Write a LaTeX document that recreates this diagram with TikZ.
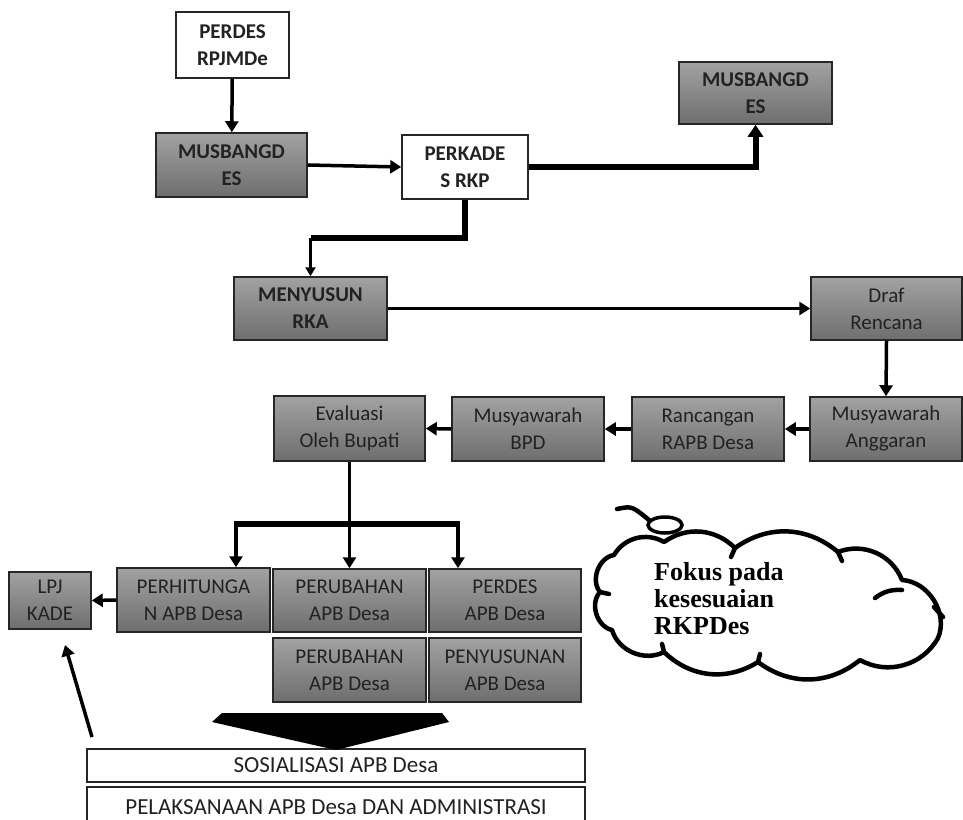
\documentclass[tikz,border=0pt]{standalone}
\usepackage{fontspec}
\setmainfont{Carlito}
\newfontfamily\cloudfont{Liberation Serif}
\usetikzlibrary{arrows.meta}
\definecolor{boxtop}{RGB}{162,162,162}
\definecolor{boxbot}{RGB}{110,110,110}
\definecolor{txt}{RGB}{34,34,34}
\tikzset{
  basebox/.style={draw=black!85, line width=1.5pt, align=center, inner sep=0pt, text=txt,
    font=\fontsize{21}{27}\selectfont},
  gbox/.style={basebox, top color=boxtop, bottom color=boxbot},
  wbox/.style={basebox, fill=white},
  bold/.style={font=\fontsize{21}{27}\selectfont\bfseries},
  bartext/.style={font=\fontsize{23}{27}\selectfont},
  conn/.style={line width=3.5pt, -{Triangle[length=11pt,width=13pt]}},
  heavy/.style={line width=6pt},
  heavyarrow/.style={line width=6pt, -{Triangle[length=12pt,width=15pt]}},
  cloudline/.style={line width=4.5pt, line cap=round, line join=round},
}
\begin{document}
\begin{tikzpicture}[x=1pt,y=-1pt]
\useasboundingbox (0,0) rectangle (963,819);
\fill[white] (0,0) rectangle (963,819);
\clip (0,0) rectangle (963,819);

% top part
\node[wbox,bold,minimum width=113pt,minimum height=66pt] (perdes) at (232.5,45) {PERDES\\RPJMDe};
\node[gbox,bold,minimum width=151pt,minimum height=64pt] (mus1) at (231.5,165) {MUSBANGD\\ES};
\node[wbox,bold,minimum width=126pt,minimum height=64pt] (perk) at (465,167) {PERKADE\\S RKP};
\node[gbox,bold,minimum width=153pt,minimum height=62pt] (mus2) at (755.5,93) {MUSBANGD\\ES};
\node[gbox,bold,minimum width=153pt,minimum height=63pt] (meny) at (310.5,308.5) {MENYUSUN\\RKA};
\node[gbox,minimum width=151pt,minimum height=63pt] (draf) at (886.5,308.5) {Draf\\Rencana};

% middle row
\node[gbox,minimum width=152pt,minimum height=64pt] (angg) at (886,429) {Musyawarah\\Anggaran};
\node[gbox,minimum width=152pt,minimum height=64pt] (ranc) at (708,429) {Rancangan\\RAPB Desa};
\node[gbox,minimum width=152pt,minimum height=64pt] (bpd) at (528,429) {Musyawarah\\BPD};
\node[gbox,minimum width=151pt,minimum height=65pt] (eval) at (349.5,428.5) {Evaluasi\\Oleh Bupati};

% lower grid
\node[gbox,minimum width=153pt,minimum height=64pt] (perh) at (193.5,600) {PERHITUNGA\\N APB Desa};
\node[gbox,minimum width=153pt,minimum height=63pt] (peru1) at (349.5,600.5) {PERUBAHAN\\APB Desa};
\node[gbox,minimum width=152pt,minimum height=63pt] (perd) at (505,600.5) {PERDES\\APB Desa};
\node[gbox,minimum width=153pt,minimum height=64pt] (peru2) at (349.5,670) {PERUBAHAN\\APB Desa};
\node[gbox,minimum width=152pt,minimum height=64pt] (peny) at (505,670) {PENYUSUNAN\\APB Desa};
\node[gbox,minimum width=82pt,minimum height=57pt] (lpj) at (50,600.5) {LPJ\\KADE};

% bottom bars
\node[wbox,bartext,minimum width=498pt,minimum height=33pt] (sos) at (336,765.5) {SOSIALISASI APB Desa};
\node[wbox,bartext,minimum width=498pt,minimum height=40pt] (pel) at (336,807) {PELAKSANAAN APB Desa DAN ADMINISTRASI};

% connectors top
\draw[conn] (perdes) -- (mus1);
\draw[conn] (mus1.east) -- (perk.west);
\draw[heavyarrow] (perk.east) -| (mus2.south);
\coordinate (kink) at (310.5,238);
\draw[heavy] (perk.south) |- (kink);
\draw[line width=3pt,-{Triangle[length=9pt,width=10pt]}] (kink) -- (meny.north);
\draw[conn] (meny.east) -- (draf.west);
\draw[conn] (draf.south) -- (angg.north);
\draw[conn] (angg.west) -- (ranc.east);
\draw[conn] (ranc.west) -- (bpd.east);
\draw[conn] (bpd.west) -- (eval.east);

% branching from evaluasi
\coordinate (barL) at (236,524);
\coordinate (barR) at (458,524);
\draw[heavy] ([xshift=-2pt]barL) -- ([xshift=2pt]barR);
\draw[conn] (eval.south) -- (peru1.north);
\draw[conn] (barL) -- (perh.north -| barL);
\draw[conn] (barR) -- (perd.north -| barR);
\draw[conn] (perh.west) -- (lpj.east);

% arrow up to LPJ
\coordinate (lstart) at (92,737);
\coordinate (ltip) at (65,645);
\draw[conn] (lstart) -- (ltip);

% big down arrow
\fill[black] (222,713) -- (442,713) -- (449,722) -- (336,750) -- (212,722) -- cycle;

% cloud
\draw[cloudline, fill=white]
  (614,555) to[bend left=45] (664,542) to[bend left=40] (735,548)
  to[bend left=38] (838,552) to[bend left=45] (902,580)
  to[bend left=55] (938,638) to[bend left=45] (860,660)
  to[bend left=38] (758,662) to[bend left=38] (664,652)
  to[bend left=50] (612,630) to[bend left=60] (600,592)
  to[bend left=60] cycle;
\draw[cloudline] (735,548) -- (731,557);
\draw[cloudline] (838,552) -- (842,561);
\draw[cloudline] (902,590) to[bend right=20] (875,598);
\draw[cloudline] (934,607) -- (943,617);
\draw[cloudline] (600,592) -- (609,594);
\draw[cloudline] (664,652) -- (662,644);
\draw[cloudline] (758,662) -- (760,654);
\draw[line width=3.5pt, fill=white] (665,525) ellipse (17pt and 8pt);
\draw[cloudline] (617,509) .. controls (632,506) .. (649,520);
\node[anchor=north west, align=left, inner sep=0pt, text=black,
      font=\cloudfont\bfseries\fontsize{26}{27}\selectfont] (ctext) at (654,562)
      {Fokus pada\\kesesuaian\\RKPDes};
\end{tikzpicture}
\end{document}
